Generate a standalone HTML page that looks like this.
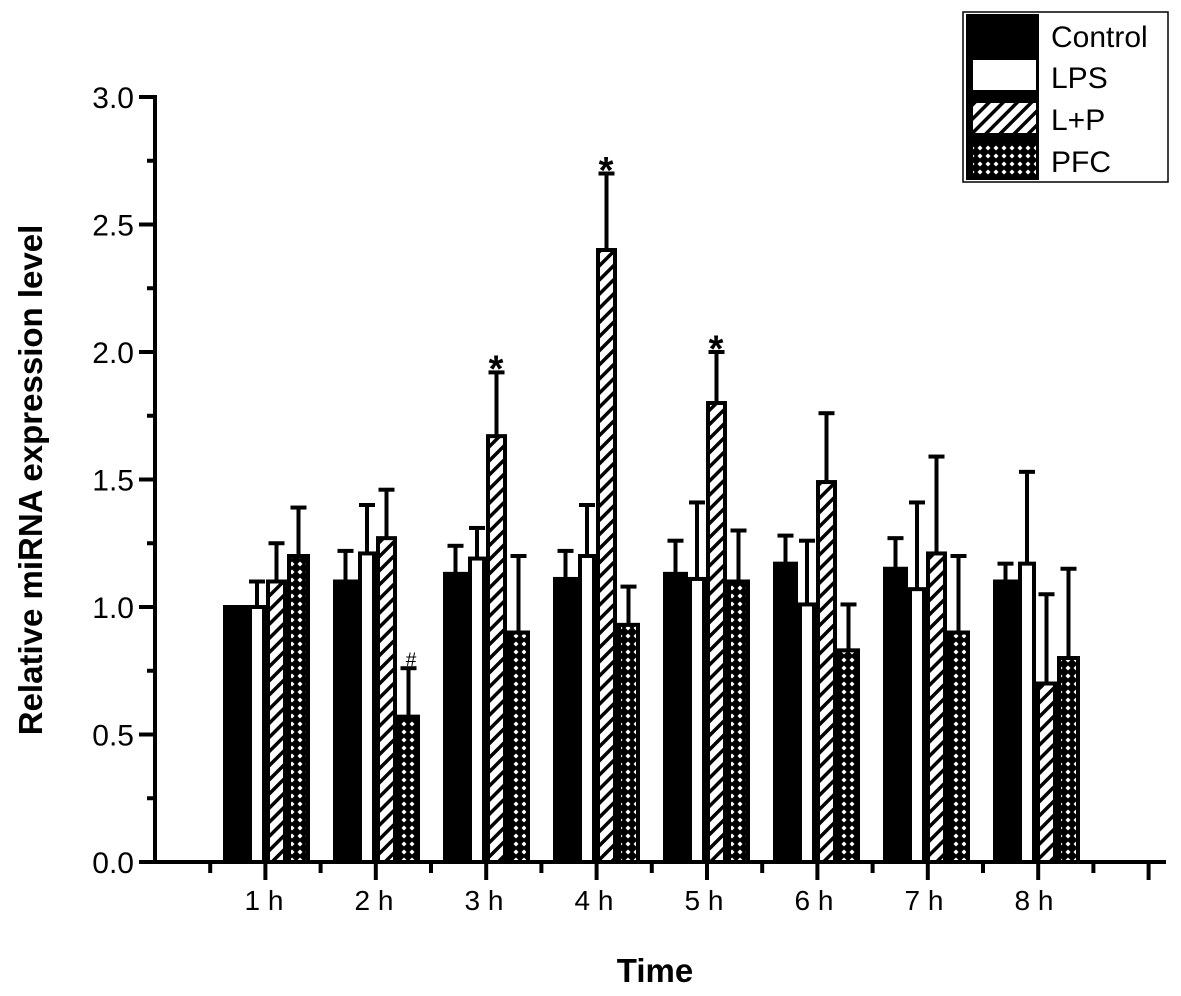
<!DOCTYPE html>
<html><head><meta charset="utf-8"><style>body{margin:0;background:#fff}svg{display:block}text{font-family:"Liberation Sans",Arial,sans-serif}</style></head>
<body>
<svg id="chart" width="1181" height="996" viewBox="0 0 1181 996">
<defs>
<pattern id="hatch" patternUnits="userSpaceOnUse" width="10" height="10" patternTransform="rotate(45)"><rect width="10" height="10" fill="#fff"/><rect x="0" y="0" width="3.5" height="10" fill="#000"/></pattern>
<pattern id="cross" patternUnits="userSpaceOnUse" width="8" height="8"><rect width="8" height="8" fill="#000"/><path d="M4 1.5 L6.5 4 L4 6.5 L1.5 4Z" fill="#fff"/></pattern>
</defs>
<g id="axes"></g><g id="bars"></g>
<text x="655" y="982" font-size="33" font-weight="bold" text-anchor="middle">Time</text>
<text transform="translate(42,480) rotate(-90)" font-size="33" font-weight="bold" text-anchor="middle">Relative miRNA expression level</text>
<g>
<rect x="963" y="12" width="205" height="170" fill="#fff" stroke="#000" stroke-width="1.5"/>
<rect x="966" y="14" width="73" height="166" fill="#000"/>
<rect x="973" y="60" width="63" height="30" fill="#fff"/>
<rect x="973" y="103" width="63" height="30" fill="url(#hatch)"/>
<rect x="973" y="145" width="63" height="30" fill="url(#cross)"/>
<text x="1051" y="47" font-size="30">Control</text>
<text x="1051" y="88" font-size="30">LPS</text>
<text x="1051" y="130" font-size="30">L+P</text>
<text x="1051" y="172" font-size="30">PFC</text>
</g>
</svg>
<script>
const categories=["1 h","2 h","3 h","4 h","5 h","6 h","7 h","8 h"];
const controlVals=[1.0,1.10,1.13,1.11,1.13,1.17,1.15,1.10];
const controlErr=[1.0,1.22,1.24,1.22,1.26,1.28,1.27,1.17];
const lpsVals=[1.0,1.21,1.19,1.20,1.11,1.01,1.07,1.17];
const lpsErr=[1.10,1.40,1.31,1.40,1.41,1.26,1.41,1.53];
const lpVals=[1.10,1.27,1.67,2.40,1.80,1.49,1.21,0.70];
const lpErr=[1.25,1.46,1.92,2.70,2.00,1.76,1.59,1.05];
const pfcVals=[1.20,0.57,0.90,0.93,1.10,0.83,0.90,0.80];
const pfcErr=[1.39,0.76,1.20,1.08,1.30,1.01,1.20,1.15];
const yTicks=[0,0.5,1.0,1.5,2.0,2.5,3.0];
const marks=[["*",2,1.97],["*",3,2.75],["*",4,2.05]];
const hashMark=["#",1,0.78];
const NS="http://www.w3.org/2000/svg";
const Y=v=>862-v*255;
const X=i=>266+i*110;
function mk(t,a,p){const e=document.createElementNS(NS,t);for(const k in a)e.setAttribute(k,a[k]);p.appendChild(e);return e;}
const ax=document.getElementById('axes'),bg=document.getElementById('bars');
let yl=mk('line',{x1:155,y1:95,x2:155,y2:864,stroke:'#000','stroke-width':4},ax);


let xl=mk('line',{x1:153,y1:862,x2:1166,y2:862,stroke:'#000','stroke-width':4},ax);


for(let v=0;v<=3.001;v+=0.25){const maj=Math.abs(v*2-Math.round(v*2))<0.01;mk('line',{x1:maj?139:147,y1:Y(v),x2:155,y2:Y(v),stroke:'#000','stroke-width':4},ax);}
yTicks.forEach(v=>{const t=mk('text',{x:134,y:Y(v)+11,'font-size':30,'text-anchor':'end'},ax);t.textContent=v.toFixed(1);

});
for(let k=1;k<=18;k++){const x=155+k*55.2;const maj=k%2===0;mk('line',{x1:x,y1:862,x2:x,y2:maj?880:873,stroke:'#000','stroke-width':4},ax);}
categories.forEach((c,i)=>{const t=mk('text',{x:X(i)-2,y:910,'font-size':28,'text-anchor':'middle'},ax);t.textContent=c;

});
const series=[[controlVals,controlErr,'#000',-43,25,'control'],[lpsVals,lpsErr,'#fff',-18,18,'lps'],[lpVals,lpErr,'url(#hatch)',0,21,'lp'],[pfcVals,pfcErr,'url(#cross)',21,23,'pfc']];
series.forEach(([vals,errs,fill,off,w,nm])=>{vals.forEach((v,i)=>{const x=X(i)+off;const cx=x+w/2;
if(errs[i]>v+0.001){mk('line',{x1:cx,y1:Y(v),x2:cx,y2:Y(errs[i]),stroke:'#000','stroke-width':4},bg);mk('line',{x1:cx-8,y1:Y(errs[i]),x2:cx+8,y2:Y(errs[i]),stroke:'#000','stroke-width':4},bg);}
const r=mk('rect',{x:x+2,y:Y(v),width:w-4,height:Y(0)-Y(v),fill:fill,stroke:'#000','stroke-width':4},bg);

});});
marks.forEach(([s,i,v])=>{const t=mk('text',{x:X(i)+10,y:Y(v)+22,'font-size':38,'font-weight':'bold','text-anchor':'middle'},bg);t.textContent=s;

});
{const t=mk('text',{x:X(hashMark[1])+35,y:Y(hashMark[2])+3,'font-size':19,'text-anchor':'middle'},bg);t.textContent=hashMark[0];

}
</script>
</body></html>
